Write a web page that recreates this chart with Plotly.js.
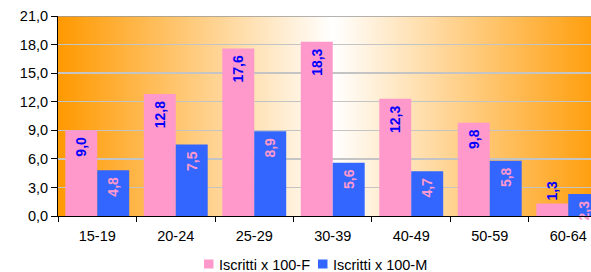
<!DOCTYPE html>
<html><head><meta charset="utf-8">
<script src="https://cdn.plot.ly/plotly-3.0.1.min.js"></script>
<style>
html,body{margin:0;padding:0;background:#fff;}
#wrap{position:relative;width:591px;height:272px;overflow:hidden;}
#bg{position:absolute;left:58px;top:16px;width:550px;height:200px;
 background:linear-gradient(to right,#FF9900 0%,#FFFFFF 50%,#FF9900 100%);}
#chart{position:absolute;left:0;top:0;width:591px;height:272px;}
</style></head>
<body><div id="wrap"><div id="bg"></div><div id="chart"></div></div>
<script>
const categories = ['15-19','20-24','25-29','30-39','40-49','50-59','60-64'];
const femmine = [9.0, 12.8, 17.6, 18.3, 12.3, 9.8, 1.3];
const maschi = [4.8, 7.5, 8.9, 5.6, 4.7, 5.8, 2.3];
const yTicks = [0, 3, 6, 9, 12, 15, 18, 21];
const seriesNames = ['Iscritti x 100-F', 'Iscritti x 100-M'];
const seriesColors = ['#FF99CC', '#3366FF'];
const labelColors = ['#0000FF', '#FF99CC'];

const font = 'Arial, "Liberation Sans", sans-serif';
const fPos = femmine.map((v, i) => i === femmine.length - 1 ? 'outside' : 'inside');

function barTrace(k, vals, pos) {
 return {type:'bar', name:seriesNames[k], x:categories, y:vals,
  marker:{color:seriesColors[k]}, texttemplate:'%{y:.1f}\u00a0', textposition:pos,
  textangle:-90, insidetextanchor:'end', constraintext:'none', cliponaxis:false,
  textfont:{family:font, size:14, color:labelColors[k], weight:'bold'},
  hoverinfo:'none'};
}
const traces = [barTrace(0, femmine, fPos), barTrace(1, maschi, 'inside')];

// custom legend (pixel layout converted to paper coords)
const L = 58, W = 533, T = 16, H = 200;
const px = v => (v - L) / W;
const py = v => 1 - (v - T) / H;
const legendX = [204, 318];
const shapes = [{type:'line', xref:'paper', yref:'y', x0:0, x1:1,
  y0:yTicks[yTicks.length-1], y1:yTicks[yTicks.length-1],
  line:{color:'#9A9A9A', width:1.5}, layer:'above'}];
const annotations = [];
seriesNames.forEach((n, k) => {
 shapes.push({type:'rect', xref:'paper', yref:'paper', x0:px(legendX[k]), x1:px(legendX[k]+9.5),
  y0:py(259.5), y1:py(268.5), fillcolor:seriesColors[k], line:{width:0}});
 annotations.push({xref:'paper', yref:'paper', x:px(legendX[k]+12.5), y:py(264.5),
  xanchor:'left', yanchor:'middle', showarrow:false, text:n,
  font:{family:font, size:14.5, color:'#000'}});
});

const layout = {
 width:591, height:272,
 margin:{l:58, r:0, t:16, b:56},
 paper_bgcolor:'rgba(0,0,0,0)', plot_bgcolor:'rgba(0,0,0,0)',
 separators:',.',
 barmode:'group', bargap:0.186, bargroupgap:0,
 font:{family:font, size:14.5, color:'#000'},
 xaxis:{type:'category', range:[-0.5, 6.29], tickson:'boundaries',
  ticks:'outside', ticklen:5, tickcolor:'#000', showline:true, linecolor:'#000', linewidth:1,
  showgrid:false, tickfont:{size:14.5}, ticklabelstandoff:7, fixedrange:true},
 yaxis:{range:[0,21], tickvals:yTicks, tickformat:'.1f', ticks:'outside', ticklen:6,
  tickcolor:'#000', showline:true, linecolor:'#000', linewidth:1,
  gridcolor:'#C4C4C4', gridwidth:1.5, zeroline:false, tickfont:{size:14.5}, fixedrange:true},
 shapes:shapes,
 annotations:annotations,
 showlegend:false
};
Plotly.newPlot('chart', traces, layout, {displayModeBar:false, staticPlot:true});
</script></body></html>
